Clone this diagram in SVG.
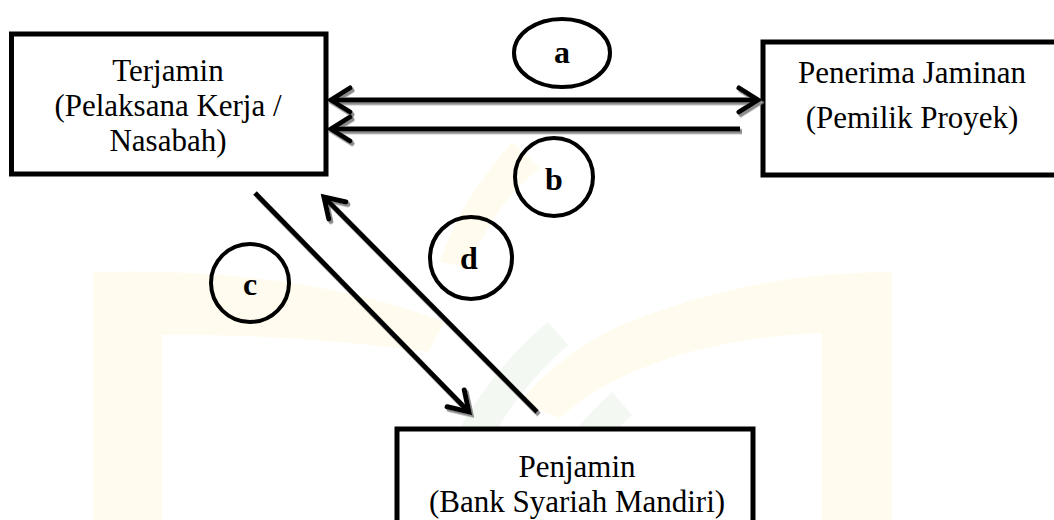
<svg xmlns="http://www.w3.org/2000/svg" width="1054" height="520" viewBox="0 0 1054 520">
  <style>
    .box { fill: #ffffff; stroke: #000000; stroke-width: 5; }
    .label { font-size: 31px; fill: #000000; text-anchor: middle; }
    .tag { fill: none; stroke: #000000; stroke-width: 4; }
    .tagtext { font-size: 32px; font-weight: bold; fill: #000000; text-anchor: middle; }
    .conn { fill: none; stroke: #000000; stroke-width: 5; }
    .wm-y { fill: #fffcef; }
    .wm-g { fill: #f3f9f2; }
  </style>
  <defs>
    <marker id="head" viewBox="-24 -16 28 32" refX="0" refY="0" markerWidth="28" markerHeight="32" markerUnits="userSpaceOnUse" orient="auto-start-reverse" overflow="visible">
      <path d="M-19,-12 L0,0 L-19,12" fill="none" stroke="#000000" stroke-width="5" stroke-linecap="round" stroke-linejoin="miter"/>
    </marker>
    <filter id="shadow" x="-10%" y="-10%" width="120%" height="130%">
      <feDropShadow dx="2" dy="2.5" stdDeviation="0.4" flood-color="#8c8c8c" flood-opacity="1"/>
    </filter>
  </defs>

  <rect width="1054" height="520" fill="#ffffff"/>

  <!-- faint background emblem -->
  <g id="watermark">
    <path class="wm-y" d="M93,520 V272 C 230,268 350,286 445,322 L 428,352 C 340,340 250,334 162,335 V520 Z"/>
    <path class="wm-y" d="M892,520 V272 C 790,272 700,292 615,328 C 575,348 545,372 520,402 L 560,418 C 610,372 700,338 822,333 V520 Z"/>
    <path class="wm-y" d="M512,142 C 480,180 455,215 440,262 L 468,268 C 485,228 505,196 540,168 Z"/>
    <path class="wm-g" d="M548,322 C 490,370 445,440 420,520 L 455,520 C 478,450 515,392 568,345 Z"/>
    <path class="wm-g" d="M612,392 C 570,430 540,475 522,520 L 556,520 C 572,482 600,445 632,415 Z"/>
  </g>

  <!-- parties -->
  <g id="terjamin" font-family="'Liberation Serif', 'DejaVu Serif', serif">
    <rect class="box" x="11.5" y="34" width="314.5" height="140"/>
    <text class="label" x="168" y="81">Terjamin</text>
    <text class="label" x="168" y="116">(Pelaksana Kerja /</text>
    <text class="label" x="168" y="151">Nasabah)</text>
  </g>
  <g id="penerima" font-family="'Liberation Serif', 'DejaVu Serif', serif">
    <rect class="box" x="763" y="42" width="310" height="133"/>
    <text class="label" x="912" y="83">Penerima Jaminan</text>
    <text class="label" x="912" y="128">(Pemilik Proyek)</text>
  </g>
  <g id="penjamin" font-family="'Liberation Serif', 'DejaVu Serif', serif">
    <rect class="box" x="397" y="429" width="356" height="110"/>
    <text class="label" x="577" y="477">Penjamin</text>
    <text class="label" x="577" y="512">(Bank Syariah Mandiri)</text>
  </g>

  <!-- flows -->
  <g id="connectors" filter="url(#shadow)">
    <line class="conn" x1="331" y1="100" x2="758" y2="100" marker-start="url(#head)" marker-end="url(#head)"/>
    <line class="conn" x1="740" y1="129" x2="331" y2="129" marker-end="url(#head)"/>
    <line class="conn" x1="255" y1="193" x2="469" y2="412" marker-end="url(#head)"/>
    <line class="conn" x1="537" y1="412" x2="324" y2="197" marker-end="url(#head)"/>
  </g>

  <!-- step labels -->
  <g id="steps" font-family="'Liberation Serif', 'DejaVu Serif', serif">
    <g id="step-a">
      <ellipse class="tag" cx="562" cy="53" rx="48" ry="34"/>
      <text class="tagtext" x="562" y="63">a</text>
    </g>
    <g id="step-b">
      <circle class="tag" cx="554" cy="177" r="39"/>
      <text class="tagtext" x="554" y="190">b</text>
    </g>
    <g id="step-c">
      <circle class="tag" cx="250" cy="283" r="39"/>
      <text class="tagtext" x="250" y="295">c</text>
    </g>
    <g id="step-d">
      <circle class="tag" cx="471" cy="258" r="41"/>
      <text class="tagtext" x="469" y="269">d</text>
    </g>
  </g>
</svg>
